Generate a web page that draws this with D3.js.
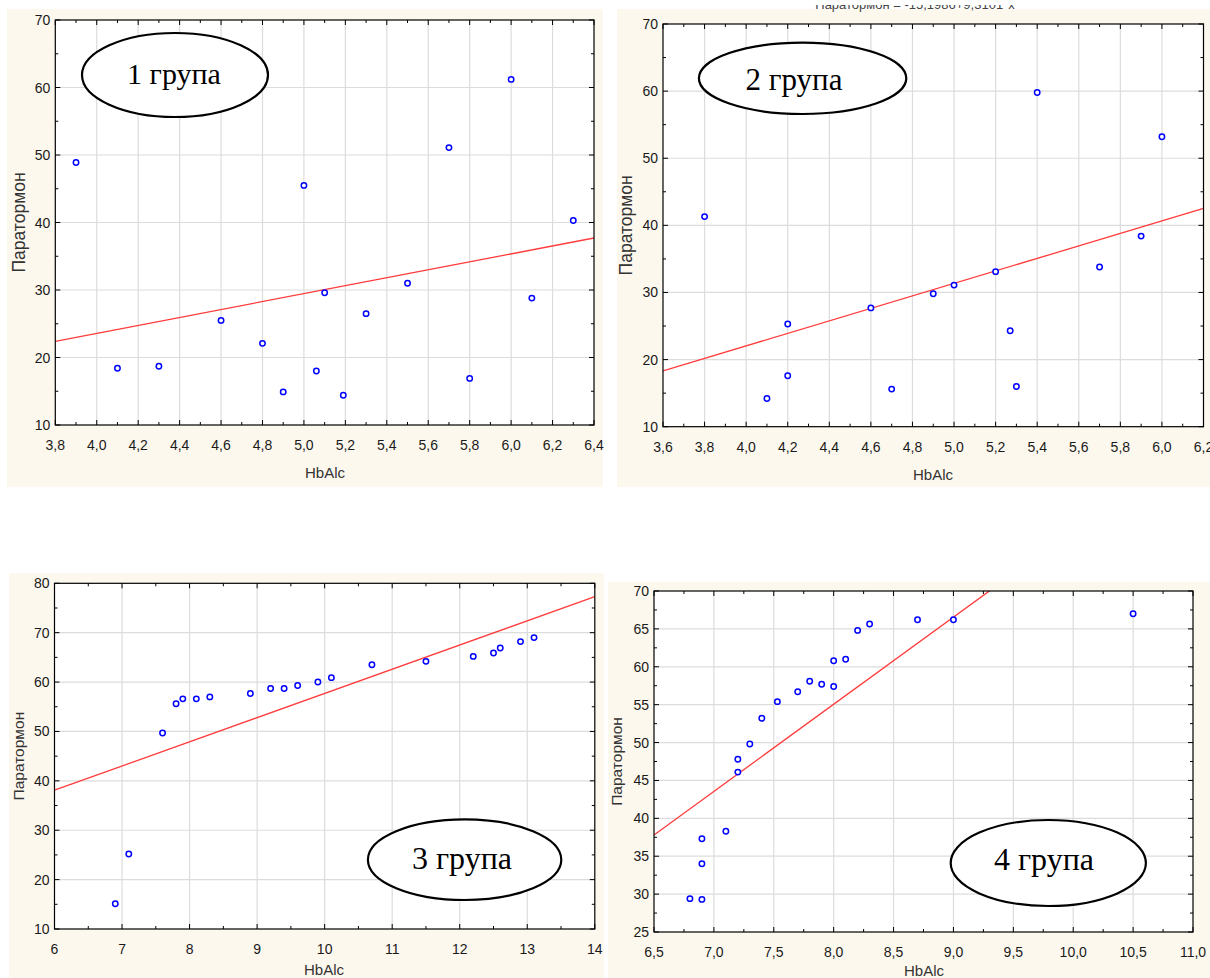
<!DOCTYPE html>
<html><head><meta charset="utf-8">
<script src="https://cdn.jsdelivr.net/npm/d3@7"></script>
<style>
body{margin:0;background:#fff;}
svg{display:block;}
</style>
</head><body>
<svg id="c" width="1210" height="978"></svg>
<script>
// ---------- DATA ----------
// Group 1
const g1HbA1c = [3.9, 4.1, 4.3, 4.6, 4.8, 4.9, 5.0, 5.06, 5.1, 5.19, 5.3, 5.5, 5.7, 5.8, 6.0, 6.1, 6.3];
const g1PTH   = [48.9, 18.4, 18.7, 25.5, 22.1, 14.9, 45.5, 18.0, 29.6, 14.4, 26.5, 31.0, 51.1, 16.9, 61.2, 28.8, 40.3];
const g1Fit   = [0.04, 5.885];           // intercept, slope
// Group 2
const g2HbA1c = [3.8, 4.1, 4.2, 4.2, 4.6, 4.7, 4.9, 5.0, 5.2, 5.27, 5.3, 5.4, 5.7, 5.9, 6.0];
const g2PTH   = [41.3, 14.2, 25.3, 17.6, 27.7, 15.6, 29.8, 31.1, 33.1, 24.3, 16.0, 59.8, 33.8, 38.4, 53.2];
const g2Fit   = [-15.2, 9.31];
// Group 3
const g3HbA1c = [6.9, 7.1, 7.6, 7.8, 7.9, 8.1, 8.3, 8.9, 9.2, 9.4, 9.6, 9.9, 10.1, 10.7, 11.5, 12.2, 12.5, 12.6, 12.9, 13.1];
const g3PTH   = [15.1, 25.2, 49.7, 55.6, 56.6, 56.6, 57.0, 57.7, 58.7, 58.7, 59.3, 60.0, 60.9, 63.5, 64.2, 65.2, 65.9, 66.9, 68.2, 69.0];
const g3Fit   = [8.7, 4.9];
// Group 4
const g4HbA1c = [6.8, 6.9, 6.9, 6.9, 7.1, 7.2, 7.2, 7.3, 7.4, 7.53, 7.7, 7.8, 7.9, 8.0, 8.0, 8.1, 8.2, 8.3, 8.7, 9.0, 10.5];
const g4PTH   = [29.4, 29.3, 34.0, 37.3, 38.3, 46.1, 47.8, 49.8, 53.2, 55.4, 56.7, 58.1, 57.7, 57.4, 60.8, 61.0, 64.8, 65.65, 66.2, 66.2, 67.0];
const g4Fit   = [-36.95, 11.5];

// Tick values
const g1XTicks = [3.8, 4.0, 4.2, 4.4, 4.6, 4.8, 5.0, 5.2, 5.4, 5.6, 5.8, 6.0, 6.2, 6.4];
const g1YTicks = [10, 20, 30, 40, 50, 60, 70];
const g2XTicks = [3.6, 3.8, 4.0, 4.2, 4.4, 4.6, 4.8, 5.0, 5.2, 5.4, 5.6, 5.8, 6.0, 6.2];
const g2YTicks = [10, 20, 30, 40, 50, 60, 70];
const g3XTicks = [6, 7, 8, 9, 10, 11, 12, 13, 14];
const g3YTicks = [10, 20, 30, 40, 50, 60, 70, 80];
const g4XTicks = [6.5, 7.0, 7.5, 8.0, 8.5, 9.0, 9.5, 10.0, 10.5, 11.0];
const g4YTicks = [25, 30, 35, 40, 45, 50, 55, 60, 65, 70];

const groupLabels = ["1 група", "2 група", "3 група", "4 група"];
const xTitle = "HbAlc";
const yTitle = "Паратормон";
const g2Equation = "Паратормон = -15,1986+9,3101*x";

// ---------- DRAWING ----------
const svg = d3.select("#c");
const NARROW = "'Liberation Sans Narrow','Arial Narrow','Liberation Sans',Arial,sans-serif";
const SANS = "'Liberation Sans',Arial,sans-serif";
const SERIF = "'Liberation Serif','Times New Roman',serif";

const panels = [
  {id:1, bg:[7,9,603,487], plot:[55.3,20,594,425], x:g1HbA1c, y:g1PTH, fit:g1Fit,
   xt:g1XTicks, yt:g1YTicks, dec:1, ell:[175,75,93,42], lab:[174,84,30],
   xTitle:[325,478], yTitle:[20,15.5,17.5]},
  {id:2, bg:[617,9,1210,487], plot:[663,24,1203.5,426.7], x:g2HbA1c, y:g2PTH, fit:g2Fit,
   xt:g2XTicks, yt:g2YTicks, dec:1, ell:[802.6,78.3,103.7,35.7], lab:[794,90,31],
   xTitle:[933,480], yTitle:[627,15.5,17.5]},
  {id:3, bg:[9,573,604,978], plot:[54.5,583.3,594.8,929], x:g3HbA1c, y:g3PTH, fit:g3Fit,
   xt:g3XTicks, yt:g3YTicks, dec:0, ell:[464.6,859.7,96.7,40.3], lab:[462,869,32],
   xTitle:[324,975], yTitle:[18.5,15.5,15.5]},
  {id:4, bg:[608,582,1210,978], plot:[654,591,1193,932], x:g4HbA1c, y:g4PTH, fit:g4Fit,
   xt:g4XTicks, yt:g4YTicks, dec:1, ell:[1048.3,863,97.6,43], lab:[1044,870,32],
   xTitle:[924,976], yTitle:[617,15.5,15.5]}
];

panels.forEach((p, i) => {
  const [bx0, by0, bx1, by1] = p.bg;
  const [px0, py0, px1, py1] = p.plot;
  const g = svg.append("g");
  g.append("rect").attr("x", bx0).attr("y", by0).attr("width", bx1 - bx0).attr("height", by1 - by0)
    .attr("fill", "#fdf8ee");
  g.append("rect").attr("x", px0).attr("y", py0).attr("width", px1 - px0).attr("height", py1 - py0)
    .attr("fill", "#ffffff");

  const xs = d3.scaleLinear().domain([p.xt[0], p.xt[p.xt.length - 1]]).range([px0, px1]);
  const ys = d3.scaleLinear().domain([p.yt[0], p.yt[p.yt.length - 1]]).range([py1, py0]);
  const fmt = v => d3.format(p.dec ? ".1f" : "d")(v).replace(".", ",");

  // minor ticks = midpoints between majors
  const xMinor = p.xt.slice(1).map((v, k) => (v + p.xt[k]) / 2);
  const yMinor = p.yt.slice(1).map((v, k) => (v + p.yt[k]) / 2);

  // grid
  const grid = g.append("g").attr("stroke", "#dcdcdc").attr("stroke-width", 1.2);
  p.xt.slice(1, -1).forEach(v => grid.append("line").attr("x1", xs(v)).attr("x2", xs(v)).attr("y1", py0).attr("y2", py1));
  p.yt.slice(1, -1).forEach(v => grid.append("line").attr("y1", ys(v)).attr("y2", ys(v)).attr("x1", px0).attr("x2", px1));

  // ellipse label
  const [ecx, ecy, erx, ery] = p.ell;
  g.append("ellipse").attr("cx", ecx).attr("cy", ecy).attr("rx", erx).attr("ry", ery)
    .attr("fill", "#fff").attr("stroke", "#000").attr("stroke-width", 2.2);
  g.append("text").attr("x", p.lab[0]).attr("y", p.lab[1]).attr("text-anchor", "middle")
    .attr("font-family", SERIF).attr("font-size", p.lab[2]).attr("fill", "#000").text(groupLabels[i]);

  // clip for fit line
  const clipId = "clip" + p.id;
  svg.append("defs").append("clipPath").attr("id", clipId).append("rect")
    .attr("x", px0).attr("y", py0).attr("width", px1 - px0).attr("height", py1 - py0);
  const dom = xs.domain();
  const line = d3.line().x(d => xs(d)).y(d => ys(p.fit[0] + p.fit[1] * d));
  g.append("path").attr("d", line(dom)).attr("clip-path", `url(#${clipId})`)
    .attr("fill", "none").attr("stroke", "#ff3b3b").attr("stroke-width", 1.3);

  // points
  g.append("g").selectAll("circle").data(p.x.map((v, k) => [v, p.y[k]])).join("circle")
    .attr("cx", d => xs(d[0])).attr("cy", d => ys(d[1])).attr("r", 2.7)
    .attr("fill", "#fff").attr("stroke", "#0000ff").attr("stroke-width", 1.5);

  // frame
  g.append("rect").attr("x", px0).attr("y", py0).attr("width", px1 - px0).attr("height", py1 - py0)
    .attr("fill", "none").attr("stroke", "#000").attr("stroke-width", 1.2);

  // inward ticks
  const tk = g.append("g").attr("stroke", "#000").attr("stroke-width", 1);
  const addX = (v, len) => {
    tk.append("line").attr("x1", xs(v)).attr("x2", xs(v)).attr("y1", py1).attr("y2", py1 - len);
    tk.append("line").attr("x1", xs(v)).attr("x2", xs(v)).attr("y1", py0).attr("y2", py0 + len);
  };
  const addY = (v, len) => {
    tk.append("line").attr("y1", ys(v)).attr("y2", ys(v)).attr("x1", px0).attr("x2", px0 + len);
    tk.append("line").attr("y1", ys(v)).attr("y2", ys(v)).attr("x1", px1).attr("x2", px1 - len);
  };
  p.xt.forEach(v => addX(v, 5)); xMinor.forEach(v => addX(v, 3));
  p.yt.forEach(v => addY(v, 5)); yMinor.forEach(v => addY(v, 3));

  // tick labels
  const lbl = g.append("g").attr("font-family", NARROW).attr("font-size", 14).attr("fill", "#1a1a1a");
  p.xt.forEach(v => lbl.append("text").attr("x", xs(v)).attr("y", py1 + 25).attr("text-anchor", "middle").text(fmt(v)));
  p.yt.forEach(v => lbl.append("text").attr("x", px0 - 5).attr("y", ys(v) + 5).attr("text-anchor", "end").text(fmt(v).replace(",0", "")));

  // axis titles
  g.append("text").attr("x", p.xTitle[0]).attr("y", p.xTitle[1]).attr("text-anchor", "middle")
    .attr("font-family", NARROW).attr("font-size", 15).attr("fill", "#333").text(xTitle);
  const ty = (py0 + py1) / 2;
  g.append("text").attr("transform", `translate(${p.yTitle[0] + 5},${ty}) rotate(-90)`)
    .attr("text-anchor", "middle").attr("font-family", SANS).attr("font-size", p.yTitle[2])
    .attr("fill", "#333").text(yTitle);
});

// clipped equation at top of panel 2 (only its lower part is visible in the original)
svg.append("defs").append("clipPath").attr("id", "eqclip").append("rect")
  .attr("x", 600).attr("y", 5).attr("width", 610).attr("height", 20);
svg.append("text").attr("clip-path", "url(#eqclip)").attr("x", 915).attr("y", 8.5)
  .attr("text-anchor", "middle").attr("font-family", NARROW).attr("font-size", 13)
  .attr("fill", "#444").text(g2Equation);
</script>
</body></html>
